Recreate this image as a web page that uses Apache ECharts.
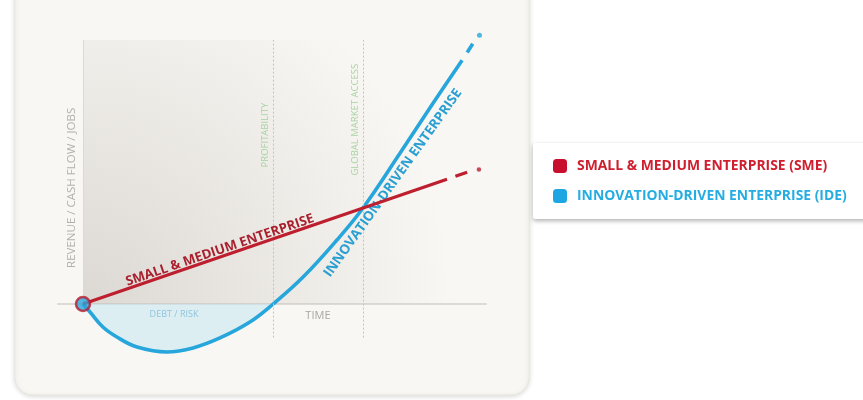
<!DOCTYPE html>
<html><head><meta charset="utf-8">
<script src="https://cdn.jsdelivr.net/npm/echarts@6/dist/echarts.min.js"></script>
<style>html,body{margin:0;padding:0;background:#ffffff}#c{width:863px;height:400px}</style>
</head><body><div id="c"></div>
<script>
// ---- data ----
const seriesNames = ['SMALL & MEDIUM ENTERPRISE (SME)', 'INNOVATION-DRIVEN ENTERPRISE (IDE)'];
const lineLabels = ['SMALL & MEDIUM ENTERPRISE', 'INNOVATION-DRIVEN ENTERPRISE'];

const smeTime  = [0, 13];
const smeValue = [0, 13];
const smeDashTime  = [13.3, 13.72];
const smeDashValue = [13.3, 13.72];
const smeDotTime  = [14.14];
const smeDotValue = [14.0];

const ideTime  = [0, 0.25, 0.71, 1.21, 1.93, 3.0, 3.93, 4.89, 5.96, 6.79, 7.86, 9.07, 10, 11.32, 12.5, 13.54];
const ideValue = [0, -0.83, -2.4, -3.44, -4.48, -5.0, -4.58, -3.54, -1.88, 0, 2.81, 6.67, 10, 15.7, 20.9, 25.4];
const ideDashTime  = [13.72, 13.92];
const ideDashValue = [26.2, 27.1];
const ideDotTime  = [14.16];
const ideDotValue = [28.0];

const milestoneNames = ['PROFITABILITY', 'GLOBAL MARKET ACCESS'];
const milestoneTime  = [6.79, 10];
const milestoneRange = [-3.5, 27.5];

const yAxisTitle = 'REVENUE / CASH FLOW / JOBS';
const xAxisTitle = 'TIME';
const debtTitle  = 'DEBT / RISK';

// ---- helpers ----
const pairs = (xs, ys) => xs.map((x, i) => [x, ys[i]]);
const RED = '#bd1f2f', BLUE = '#27a6dc';

function textPoint(coord, text, rotate, style) {
  return {
    coord: coord, symbol: 'circle', symbolSize: 1,
    itemStyle: { color: 'rgba(0,0,0,0)' },
    label: Object.assign({ show: true, position: 'inside', formatter: text, rotate: rotate,
      fontFamily: 'Open Sans' }, style)
  };
}

const chart = echarts.init(document.getElementById('c'), null, { renderer: 'canvas' });
const negCount = ideValue.indexOf(0, 1) + 1;

chart.setOption({
  backgroundColor: '#ffffff',
  animation: false,
  graphic: [{
    type: 'rect', z: -10, silent: true,
    shape: { x: 15, y: -30, width: 514, height: 425, r: 18 },
    style: { fill: '#f9f7f3', stroke: '#ebe8e3', lineWidth: 1,
      shadowBlur: 5, shadowColor: 'rgba(0,0,0,0.15)', shadowOffsetY: 1 }
  }],
  legend: {
    orient: 'vertical', left: 533, top: 143,
    padding: [16, 40, 16, 20], itemGap: 16,
    backgroundColor: '#ffffff', borderRadius: 2,
    shadowBlur: 4, shadowColor: 'rgba(0,0,0,0.3)', shadowOffsetY: 2,
    icon: 'roundRect', itemWidth: 14, itemHeight: 14,
    selectedMode: false,
    textStyle: { fontFamily: 'Open Sans', fontWeight: 'bold', fontSize: 13.9, padding: [0, 0, 0, 5] },
    data: [
      { name: seriesNames[0], itemStyle: { color: '#c8102e' }, textStyle: { color: '#cf1f2e' } },
      { name: seriesNames[1], itemStyle: { color: '#1ea6e3' }, textStyle: { color: '#25ade2' } }
    ]
  },
  grid: { left: 57.8, right: 376.8, top: 30.4, bottom: 43.2 },
  xAxis: {
    type: 'value', min: -0.9, max: 14.4,
    axisLine: { show: true, onZero: true, lineStyle: { color: '#d3d0cb', width: 1.5 } },
    axisTick: { show: false }, axisLabel: { show: false }, splitLine: { show: false }
  },
  yAxis: {
    type: 'value', min: -5.5, max: 28.5,
    axisLine: { show: false }, axisTick: { show: false },
    axisLabel: { show: false }, splitLine: { show: false }
  },
  series: [
    {
      name: seriesNames[1], type: 'line', smooth: 0.4, symbol: 'none', z: 1,
      data: pairs(ideTime.slice(0, negCount), ideValue),
      lineStyle: { width: 0 },
      areaStyle: { color: 'rgba(196,230,244,0.75)' },
      markArea: {
        silent: true,
        itemStyle: {
          color: { type: 'radial', x: 0, y: 1, r: 1.4,
            colorStops: [{ offset: 0, color: 'rgba(196,192,186,0.55)' },
                         { offset: 0.6, color: 'rgba(196,192,186,0.22)' },
                         { offset: 1, color: 'rgba(196,192,186,0)' }] }
        },
        data: [[{ coord: [0, 0] }, { coord: [14, 27.5] }]]
      }
    },
    {
      name: seriesNames[0], type: 'line', symbol: 'none', z: 5,
      data: pairs(smeTime, smeValue),
      lineStyle: { color: RED, width: 3.2 },
      markLine: {
        silent: true, symbol: ['none', 'none'], label: { show: false },
        data: [
          [{ coord: [milestoneTime[0], milestoneRange[0]], lineStyle: { color: '#a9d6a3', type: [2, 2], width: 1 } },
           { coord: [milestoneTime[0], milestoneRange[1]] }],
          [{ coord: [milestoneTime[1], milestoneRange[0]], lineStyle: { color: '#a9d6a3', type: [2, 2], width: 1 } },
           { coord: [milestoneTime[1], milestoneRange[1]] }],
          [{ coord: [0, 0], lineStyle: { color: '#dcd9d4', type: 'solid', width: 1 } },
           { coord: [0, 27.5] }]
        ]
      },
      markPoint: {
        silent: true,
        data: [
          textPoint([4.89, 5.6], lineLabels[0], 18.9, { color: '#a8202e', fontSize: 13.2, fontWeight: 'bold' }),
          textPoint([11.07, 12.6], lineLabels[1], 54.5, { color: '#2a9fd2', fontSize: 13.5, fontWeight: 'bold' }),
          textPoint([6.5, 17.6], milestoneNames[0], 90, { color: '#a6d3a1', fontSize: 9.5 }),
          textPoint([9.71, 19.2], milestoneNames[1], 90, { color: '#a6d3a1', fontSize: 9.5 }),
          textPoint([-0.39, 12.1], yAxisTitle, 90, { color: '#b3b0ab', fontSize: 11.5 }),
          textPoint([8.39, -1.25], xAxisTitle, 0, { color: '#aaa7a2', fontSize: 11 }),
          textPoint([3.25, -1.04], debtTitle, 0, { color: '#8ec6de', fontSize: 9 })
        ]
      }
    },
    {
      name: seriesNames[0], type: 'line', symbol: 'none', z: 5,
      data: pairs(smeDashTime, smeDashValue),
      lineStyle: { color: RED, width: 3.2 }
    },
    {
      name: seriesNames[0], type: 'scatter', symbolSize: 4.5, z: 5,
      data: pairs(smeDotTime, smeDotValue), itemStyle: { color: RED }
    },
    {
      name: seriesNames[1], type: 'line', smooth: 0.4, symbol: 'none', z: 4,
      data: pairs(ideTime, ideValue),
      lineStyle: { color: BLUE, width: 3.6 }
    },
    {
      name: seriesNames[1], type: 'line', symbol: 'none', z: 4,
      data: pairs(ideDashTime, ideDashValue),
      lineStyle: { color: BLUE, width: 3.6 }
    },
    {
      name: seriesNames[1], type: 'scatter', symbolSize: 5, z: 4,
      data: pairs(ideDotTime, ideDotValue), itemStyle: { color: BLUE }
    },
    {
      name: 'origin', type: 'scatter', symbolSize: 14, z: 10,
      data: [[smeTime[0], smeValue[0]]],
      itemStyle: { color: '#2aa4dc', borderColor: '#b81c2e', borderWidth: 2.5 }
    }
  ]
});
</script></body></html>
